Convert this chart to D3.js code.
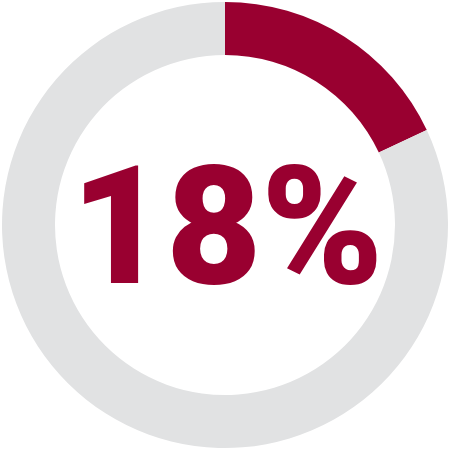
<!DOCTYPE html>
<html>
<head>
<meta charset="utf-8">
<script src="https://cdn.jsdelivr.net/npm/d3@7"></script>
<style>
  body { margin: 0; background: #fff; }
</style>
</head>
<body>
<div class="canvas"></div>
<script>
// data
const labels = ['share', 'rest']
const values = [18, 82]
const colors = ['#990030', '#e1e2e3']

const width = 450
const height = 450

const svg = d3.select('.canvas')
  .append('svg')
  .attr('width', width)
  .attr('height', height)

const graph = svg.append('g')
  .attr('transform', `translate(225, 225)`)

const pie = d3.pie()
  .sort(null)
  .value(d => d)

const arc = d3.arc()
  .innerRadius(170)
  .outerRadius(223)

graph.selectAll('path')
  .data(pie(values))
  .enter()
  .append('path')
  .attr('d', arc)
  .attr('fill', (d, i) => colors[i])

// big percentage label
graph.append('text')
  .attr('text-anchor', 'middle')
  .attr('x', 2)
  .attr('y', 58)
  .attr('fill', colors[0])
  .style('font-family', 'Roboto, sans-serif')
  .style('font-weight', 900)
  .style('font-size', '165px')
  .style('letter-spacing', '-0.5px')
  .text(`${values[0]}%`)
</script>
</body>
</html>
